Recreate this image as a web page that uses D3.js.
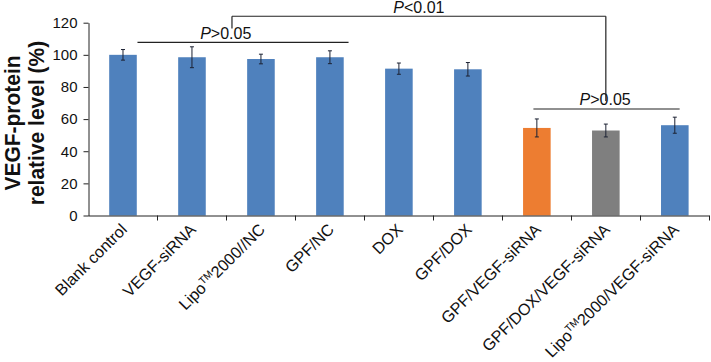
<!DOCTYPE html>
<html>
<head>
<meta charset="utf-8">
<script src="https://cdn.jsdelivr.net/npm/d3@7"></script>
<style>
html,body{margin:0;padding:0;background:#fff;}
svg{display:block;font-family:"Liberation Sans",Arial,sans-serif;}
</style>
</head>
<body>
<svg id="chart" width="711" height="362"></svg>
<script>
// ---- data ----
const categories = ["Blank control","VEGF-siRNA","LipoTM2000//NC","GPF/NC","DOX","GPF/DOX","GPF/VEGF-siRNA","GPF/DOX/VEGF-siRNA","LipoTM2000/VEGF-siRNA"];
const values = [100, 98.5, 97.4, 98.5, 91.4, 91.0, 54.5, 52.9, 56.2];
const errors = [3.3, 6.5, 3.0, 4.0, 3.5, 4.2, 5.6, 4.0, 5.0];
const barColors = ["#4F81BD","#4F81BD","#4F81BD","#4F81BD","#4F81BD","#4F81BD","#ED7D31","#7F7F7F","#4F81BD"];
const yTicks = [0, 20, 40, 60, 80, 100, 120];
// significance brackets: positions in category-index units, heights in data units
const bracketFrom = [0.21, 5.95, 1.58];
const bracketTo = [3.27, 8.07, 7.0];
const bracketLevel = [107.7, 66.3, 124.0];
const bracketLegFrom = [null, null, 116.4];
const bracketLegTo = [null, null, 71.3];
const bracketLabelPos = [1.49, 6.99, 4.29];
const bracketSign = [">", ">", "<"];
const bracketP = ["0.05", "0.05", "0.01"];
const yTitleLines = ["VEGF-protein", "relative level (%)"];

// ---- layout ----
const svg = d3.select("#chart");
const mLeft = 88.5, mRight = 709.3, mTop = 22.7, mBottom = 215.5;

const x = d3.scaleBand().domain(categories).range([mLeft, mRight]).paddingInner(0.6).paddingOuter(0.3);
const xIdx = d3.scaleLinear().domain([-0.5, categories.length - 0.5]).range([mLeft, mRight]);
const y = d3.scaleLinear().domain([0, 120]).range([mBottom, mTop]);

// bars
svg.append("g").selectAll("rect").data(categories).join("rect")
  .attr("x", d => x(d))
  .attr("y", (d,i) => y(values[i]))
  .attr("width", x.bandwidth())
  .attr("height", (d,i) => y(0) - y(values[i]))
  .attr("fill", (d,i) => barColors[i]);

// error bars
const eb = svg.append("g").attr("stroke", "#1c2233").attr("stroke-width", 1);
categories.forEach((c,i) => {
  const cx = x(c) + x.bandwidth()/2;
  const y1 = y(values[i] + errors[i]), y2 = y(values[i] - errors[i]);
  eb.append("line").attr("x1", cx).attr("x2", cx).attr("y1", y1).attr("y2", y2);
  eb.append("line").attr("x1", cx-2).attr("x2", cx+2).attr("y1", y1).attr("y2", y1);
  eb.append("line").attr("x1", cx-2).attr("x2", cx+2).attr("y1", y2).attr("y2", y2);
});

// y axis
const yAxis = svg.append("g").attr("transform", `translate(${mLeft},0)`)
  .call(d3.axisLeft(y).tickValues(yTicks).tickSize(5).tickSizeOuter(0).tickPadding(6));
yAxis.selectAll("text").attr("font-size", 15).attr("fill", "#111").attr("font-family", "Liberation Sans, Arial, sans-serif");
yAxis.selectAll("line,path").attr("stroke", "#222");

// x axis (line + ticks at category boundaries)
const xa = svg.append("g").attr("stroke", "#222");
xa.append("line").attr("x1", mLeft).attr("x2", mRight).attr("y1", y(0)+0.5).attr("y2", y(0)+0.5);
d3.range(1, categories.length + 1).forEach(k => {
  const xx = Math.round(xIdx(k - 0.5)) + 0.5;
  xa.append("line").attr("x1", xx).attr("x2", xx).attr("y1", y(0)).attr("y2", y(0) + 5);
});

// x labels
const lab = svg.append("g").attr("font-size", 16.2).attr("fill", "#111");
categories.forEach((c,i) => {
  const cx = x(c) + x.bandwidth()/2;
  const t = lab.append("text").attr("text-anchor", "end")
    .attr("transform", `translate(${cx + 5},${y(0) + 15}) rotate(-45)`);
  if (c.startsWith("LipoTM")) {
    t.append("tspan").text("Lipo");
    t.append("tspan").attr("font-size", 10.2).attr("dy", -6).text("TM");
    t.append("tspan").attr("dy", 6).text(c.slice(6));
  } else {
    t.text(c);
  }
});

// y title
const yt = svg.append("text").attr("font-size", 21).attr("font-weight", "bold").attr("fill", "#111")
  .attr("text-anchor", "middle")
  .attr("transform", `translate(19.5,123) rotate(-90) scale(1,1.05)`);
yTitleLines.forEach((l, i) => yt.append("tspan").attr("x", 0).attr("y", i * 23).text(l));

// brackets
const br = svg.append("g");
bracketFrom.forEach((f, i) => {
  const x1 = xIdx(f), x2 = xIdx(bracketTo[i]), yy = y(bracketLevel[i]);
  const g = br.append("g").attr("stroke", "#222").attr("stroke-width", 1.2).attr("fill", "none");
  g.append("line").attr("x1", x1).attr("x2", x2).attr("y1", yy).attr("y2", yy);
  if (bracketLegFrom[i] !== null) {
    g.append("line").attr("x1", x1).attr("x2", x1).attr("y1", yy).attr("y2", y(bracketLegFrom[i]));
    g.append("line").attr("x1", x2).attr("x2", x2).attr("y1", yy).attr("y2", y(bracketLegTo[i]));
  }
  const t = br.append("text").attr("x", xIdx(bracketLabelPos[i])).attr("y", yy - 3.5)
    .attr("text-anchor", "middle").attr("font-size", 16).attr("fill", "#111");
  t.append("tspan").attr("font-style", "italic").text("P");
  t.append("tspan").text(bracketSign[i] + bracketP[i]);
});
</script>
</body>
</html>
